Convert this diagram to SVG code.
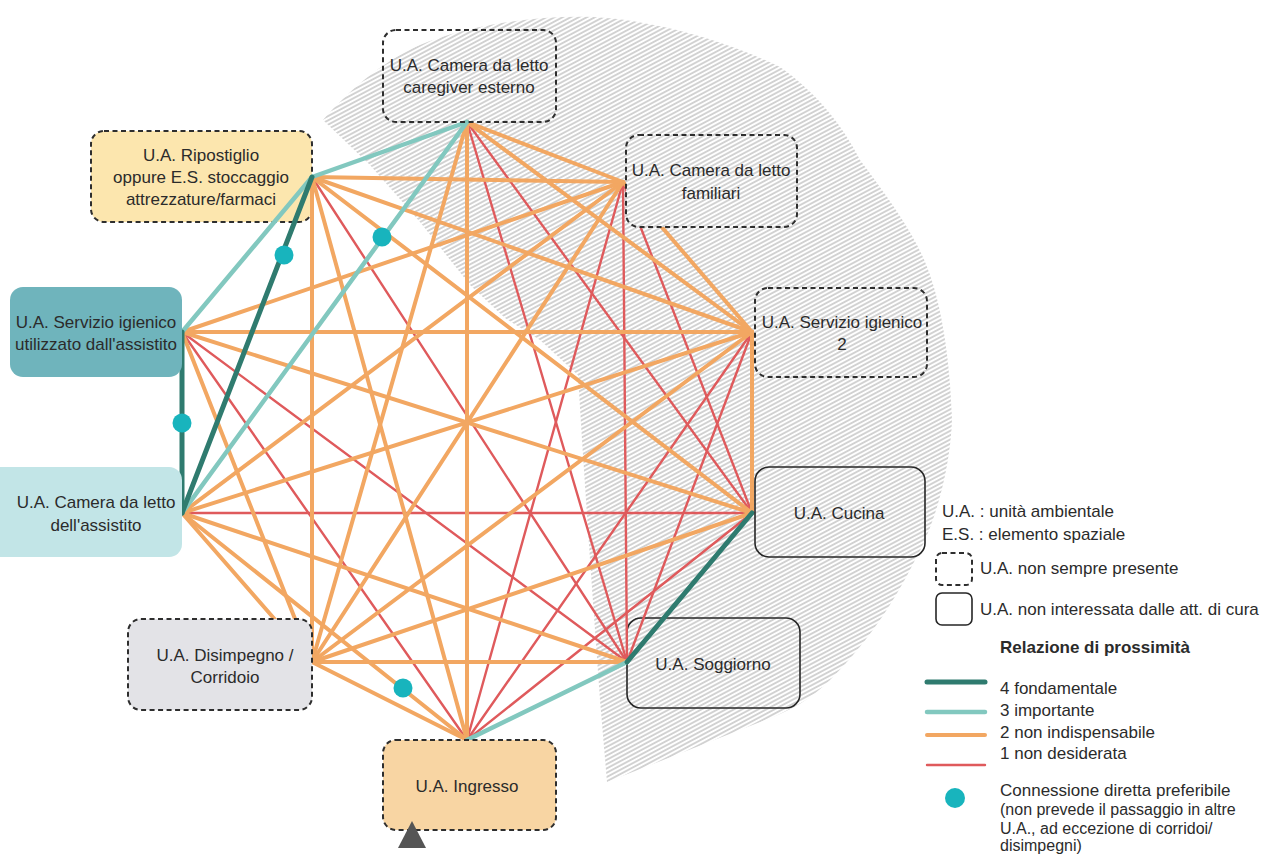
<svg xmlns="http://www.w3.org/2000/svg" width="1266" height="855" viewBox="0 0 1266 855">
  <style>
    text { font-family: "Liberation Sans", Arial, sans-serif; font-size: 17px; fill: #2b2b2b; }
    .c { text-anchor: middle; }
    .sm { font-size: 16px; }
    .b { font-weight: bold; }
    .dash { stroke: #2e2e2e; stroke-width: 2; stroke-dasharray: 5 3.5; }
    .solid { stroke: #262626; stroke-width: 1.6; }
    .open { fill: none; }
    .e { fill: none; stroke-linecap: round; }
    .r4 { stroke: #2f7b6f; stroke-width: 5; }
    .r3 { stroke: #82c8bf; stroke-width: 4.5; }
    .r2 { stroke: #f2a762; stroke-width: 4; }
    .r1 { stroke: #df5a5c; stroke-width: 2.4; }
    .dot { fill: #18b4bd; }
  </style>
  <defs>
    <pattern id="hatch" patternUnits="userSpaceOnUse" width="10" height="3.8" patternTransform="rotate(-28)">
      <line x1="0" y1="1.9" x2="10" y2="1.9" stroke="#9c9c9c" stroke-width="0.9"/>
    </pattern>
  </defs>

  <rect width="1266" height="855" fill="#ffffff"/>

  <!-- shaded zone behind the rooms on the right -->
  <path fill="url(#hatch)" d="M323,120 C345,95 380,62 420,45 C470,24 540,15 593,17 C650,20 720,38 780,67 C820,95 845,130 860,160 C890,200 915,235 927,267 C942,305 950,360 952,420 C950,470 935,525 915,560 C895,600 870,640 830,680 C810,700 790,710 773,717 L607,782 L600,700 L590,560 L582,440 L578,375 L540,340 L505,318 L470,285 L420,222 L370,165 Z"/>

  <!-- storeroom box sits beneath the links -->
  <g id="n-ripostiglio">
    <rect x="91" y="131" width="221" height="91" rx="13" fill="#fce6ae" class="dash"/>
    <text class="c" x="201" y="161">U.A. Ripostiglio</text>
    <text class="c" x="201" y="183">oppure E.S. stoccaggio</text>
    <text class="c" x="201" y="205">attrezzature/farmaci</text>
  </g>
  <g id="n-soggiorno">
    <rect x="627" y="618" width="173" height="90" rx="14" class="solid open"/>
    <text class="c" x="713" y="670">U.A. Soggiorno</text>
  </g>

  <!-- proximity links -->
  <g id="connectors" class="e">
    <!-- 1 non desiderata -->
    <g class="r1">
      <line x1="467" y1="122" x2="752" y2="513"/>
      <line x1="467" y1="122" x2="627" y2="662"/>
      <line x1="623" y1="182" x2="752" y2="513"/>
      <line x1="623" y1="182" x2="627" y2="662"/>
      <line x1="623" y1="182" x2="467" y2="740"/>
      <line x1="752" y1="332" x2="627" y2="662"/>
      <line x1="752" y1="332" x2="467" y2="740"/>
      <line x1="752" y1="513" x2="467" y2="740"/>
      <line x1="752" y1="513" x2="182" y2="513"/>
      <line x1="627" y1="662" x2="182" y2="332"/>
      <line x1="627" y1="662" x2="312" y2="177"/>
      <line x1="467" y1="740" x2="182" y2="332"/>
    </g>
    <!-- 2 non indispensabile -->
    <g class="r2">
      <line x1="467" y1="122" x2="623" y2="182"/>
      <line x1="467" y1="122" x2="752" y2="332"/>
      <line x1="467" y1="122" x2="467" y2="740"/>
      <line x1="467" y1="122" x2="312" y2="662"/>
      <line x1="623" y1="182" x2="752" y2="332"/>
      <line x1="623" y1="182" x2="312" y2="662"/>
      <line x1="623" y1="182" x2="182" y2="513"/>
      <line x1="623" y1="182" x2="182" y2="332"/>
      <line x1="623" y1="182" x2="312" y2="177"/>
      <line x1="752" y1="332" x2="752" y2="513"/>
      <line x1="752" y1="332" x2="312" y2="662"/>
      <line x1="752" y1="332" x2="182" y2="513"/>
      <line x1="752" y1="332" x2="182" y2="332"/>
      <line x1="752" y1="332" x2="312" y2="177"/>
      <line x1="752" y1="513" x2="312" y2="662"/>
      <line x1="752" y1="513" x2="182" y2="332"/>
      <line x1="752" y1="513" x2="312" y2="177"/>
      <line x1="627" y1="662" x2="312" y2="662"/>
      <line x1="627" y1="662" x2="182" y2="513"/>
      <line x1="467" y1="740" x2="312" y2="662"/>
      <line x1="467" y1="740" x2="182" y2="513"/>
      <line x1="467" y1="740" x2="312" y2="177"/>
      <line x1="312" y1="662" x2="182" y2="513"/>
      <line x1="312" y1="662" x2="182" y2="332"/>
      <line x1="312" y1="662" x2="312" y2="177"/>
    </g>
    <!-- 3 importante -->
    <g class="r3">
      <line x1="467" y1="122" x2="312" y2="177"/>
      <line x1="467" y1="122" x2="182" y2="513"/>
      <line x1="627" y1="662" x2="467" y2="740"/>
      <line x1="182" y1="332" x2="312" y2="177"/>
    </g>
    <!-- 4 fondamentale -->
    <g class="r4">
      <line x1="752" y1="513" x2="627" y2="662"/>
      <line x1="182" y1="332" x2="182" y2="513"/>
      <line x1="182" y1="513" x2="312" y2="177"/>
    </g>
    <!-- preferred direct connections -->
    <circle class="dot" cx="284" cy="255" r="9.5"/>
    <circle class="dot" cx="382" cy="237" r="9.5"/>
    <circle class="dot" cx="182" cy="423" r="9.5"/>
    <circle class="dot" cx="403" cy="688" r="9.5"/>
  </g>

  <!-- rooms -->
  <g id="n-caregiver">
    <rect x="383" y="30" width="173" height="92" rx="13" class="dash open"/>
    <text class="c" x="469" y="71">U.A. Camera da letto</text>
    <text class="c" x="469" y="93">caregiver esterno</text>
  </g>
  <g id="n-familiari">
    <rect x="626" y="135" width="171" height="92" rx="13" fill="#ffffff"/>
    <rect x="626" y="135" width="171" height="92" rx="13" fill="url(#hatch)" class="dash"/>
    <text class="c" x="711" y="176">U.A. Camera da letto</text>
    <text class="c" x="711" y="199">familiari</text>
  </g>
  <g id="n-bagno2">
    <rect x="755" y="288" width="172" height="89" rx="13" class="dash open"/>
    <text class="c" x="842" y="328">U.A. Servizio igienico</text>
    <text class="c" x="842" y="350">2</text>
  </g>
  <g id="n-cucina">
    <rect x="755" y="467" width="170" height="90" rx="14" class="solid open"/>
    <text class="c" x="839" y="519">U.A. Cucina</text>
  </g>
  <g id="n-ingresso">
    <rect x="383" y="740" width="173" height="90" rx="13" fill="#f8d5a3" class="dash"/>
    <text class="c" x="467" y="792">U.A. Ingresso</text>
    <polygon points="398,848 426,848 412,821" fill="#555555"/>
  </g>
  <g id="n-disimpegno">
    <rect x="128" y="619" width="184" height="91" rx="13" fill="#e3e3e7" class="dash"/>
    <text class="c" x="225" y="661">U.A. Disimpegno /</text>
    <text class="c" x="225" y="683">Corridoio</text>
  </g>
  <g id="n-camera-assistito">
    <rect x="-14" y="467" width="196" height="90" rx="13" fill="#c2e5e7"/>
    <text class="c" x="96" y="508">U.A. Camera da letto</text>
    <text class="c" x="96" y="531">dell'assistito</text>
  </g>
  <g id="n-bagno-assistito">
    <rect x="10" y="287" width="172" height="90" rx="13" fill="#6fb4bc"/>
    <text class="c" x="96" y="328">U.A. Servizio igienico</text>
    <text class="c" x="96" y="350">utilizzato dall'assistito</text>
  </g>

  <!-- legend -->
  <g id="legend">
    <text x="942" y="517">U.A. : unità ambientale</text>
    <text x="942" y="540">E.S. : elemento spaziale</text>
    <rect x="936" y="553" width="36" height="32" rx="6" class="dash open"/>
    <text x="980" y="574">U.A. non sempre presente</text>
    <rect x="936" y="593" width="36" height="32" rx="6" class="solid open"/>
    <text x="980" y="615">U.A. non interessata dalle att. di cura</text>
    <text class="b" x="1000" y="653">Relazione di prossimità</text>
    <line x1="927" y1="682" x2="985" y2="682" class="e r4" stroke-linecap="butt"/>
    <line x1="927" y1="712" x2="985" y2="712" class="e r3" stroke-linecap="butt"/>
    <line x1="927" y1="735" x2="985" y2="735" class="e r2" stroke-width="5" stroke-linecap="butt"/>
    <line x1="927" y1="765" x2="985" y2="765" class="e r1" stroke-width="5" stroke-linecap="butt"/>
    <text x="1000" y="694">4 fondamentale</text>
    <text x="1000" y="716">3 importante</text>
    <text x="1000" y="738">2 non indispensabile</text>
    <text x="1000" y="759">1 non desiderata</text>
    <circle class="dot" cx="955" cy="798" r="10"/>
    <text x="1000" y="796">Connessione diretta preferibile</text>
    <text class="sm" x="1000" y="815">(non prevede il passaggio in altre</text>
    <text class="sm" x="1000" y="834">U.A., ad eccezione di corridoi/</text>
    <text class="sm" x="1000" y="851">disimpegni)</text>
  </g>
</svg>
